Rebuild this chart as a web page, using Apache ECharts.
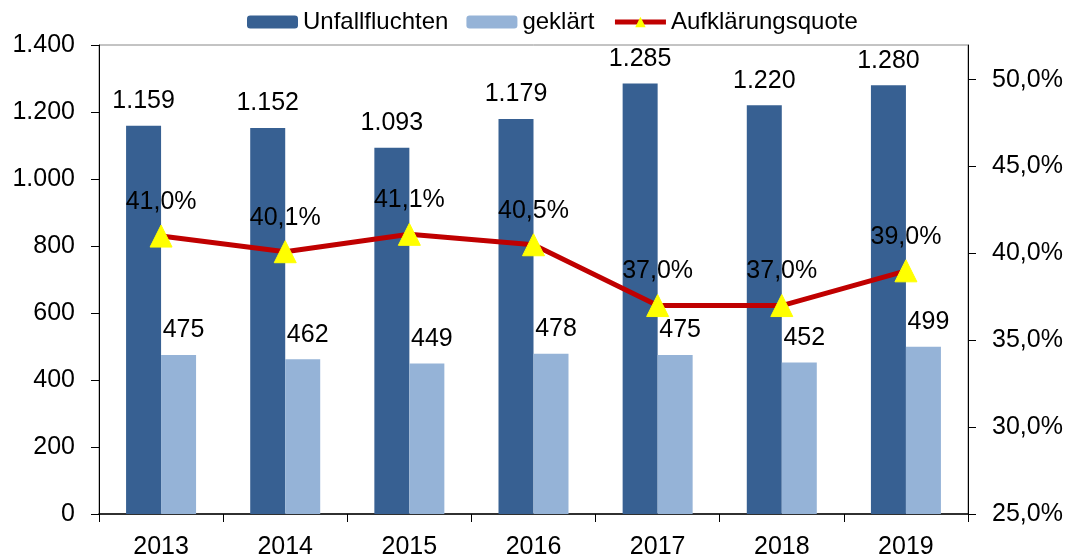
<!DOCTYPE html>
<html>
<head>
<meta charset="utf-8">
<script src="https://cdn.jsdelivr.net/npm/echarts@6/dist/echarts.min.js"></script>
<style>
  html, body { margin: 0; padding: 0; background: #fff; }
  #chart { width: 1071px; height: 560px; }
</style>
</head>
<body>
<div id="chart"></div>
<script>
const years = ['2013', '2014', '2015', '2016', '2017', '2018', '2019'];
const unfallfluchten = [1159, 1152, 1093, 1179, 1285, 1220, 1280];
const geklaert = [475, 462, 449, 478, 475, 452, 499];
const quote = [41.0, 40.1, 41.1, 40.5, 37.0, 37.0, 39.0];

const fontFam = 'Liberation Sans, Arial, sans-serif';
const thousands = (v) => String(v).replace(/\B(?=(\d{3})+(?!\d))/g, '.');
const pct = (v) => v.toFixed(1).replace('.', ',') + '%';

const myChart = echarts.init(document.getElementById('chart'));
const option = {
  animation: false,
  textStyle: { fontFamily: fontFam, color: '#000' },
  grid: {
    left: 99, right: 103, top: 45, bottom: 43,
    show: true, borderColor: '#888', borderWidth: 1
  },
  legend: {
    top: 5,
    left: 242,
    itemWidth: 51,
    itemHeight: 13,
    itemGap: 18,
    textStyle: { fontSize: 24, color: '#000', fontFamily: fontFam },
    data: [
      'Unfallfluchten',
      'geklärt',
      { name: 'Aufklärungsquote', lineStyle: { width: 5 } }
    ]
  },
  xAxis: {
    type: 'category',
    data: years,
    axisLine: { lineStyle: { color: '#000', width: 1.5 } },
    axisTick: { show: true, length: 8, lineStyle: { color: '#000' } },
    axisLabel: { fontSize: 25, color: '#000', margin: 21 }
  },
  yAxis: [
    {
      type: 'value', min: 0, max: 1400, interval: 200,
      splitLine: { show: false },
      axisLine: { show: true, lineStyle: { color: '#000' } },
      axisTick: { show: true, length: 8, lineStyle: { color: '#000' } },
      axisLabel: { fontSize: 25, color: '#000', margin: 24, formatter: thousands }
    },
    {
      type: 'value', min: 25, max: 52, interval: 5,
      splitLine: { show: false },
      axisLine: { show: true, lineStyle: { color: '#000' } },
      axisTick: { show: true, length: 8, lineStyle: { color: '#000' } },
      axisLabel: { fontSize: 25, color: '#000', margin: 24, showMaxLabel: false, formatter: pct }
    }
  ],
  series: [
    {
      name: 'Unfallfluchten', type: 'bar', data: unfallfluchten,
      barWidth: 35, barGap: '0%',
      itemStyle: { color: '#376092' },
      label: { show: true, position: 'top', distance: 12, fontSize: 25, color: '#000', formatter: (p) => thousands(p.value) }
    },
    {
      name: 'geklärt', type: 'bar', data: geklaert,
      barWidth: 35,
      itemStyle: { color: '#95B3D7' },
      label: { show: true, position: 'top', distance: 12, offset: [5, 0], fontSize: 25, color: '#000' }
    },
    {
      name: 'Aufklärungsquote', type: 'line', yAxisIndex: 1, data: quote,
      symbol: 'triangle', symbolSize: 22,
      lineStyle: { color: '#C00000', width: 5 },
      itemStyle: { color: '#FFFF00', borderColor: '#FFFF00' },
      label: { show: true, position: 'top', distance: 10, fontSize: 25, color: '#000', formatter: (p) => pct(p.value) },
      z: 5
    }
  ]
};
myChart.setOption(option);
</script>
</body>
</html>
